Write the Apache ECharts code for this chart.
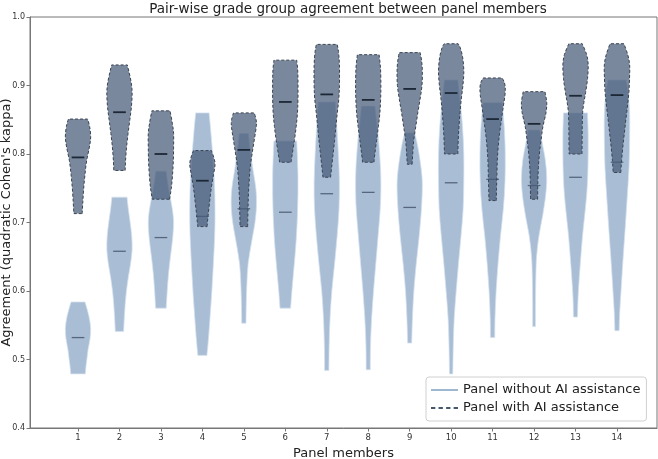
<!DOCTYPE html>
<html><head><meta charset="utf-8">
<script src="https://cdn.jsdelivr.net/npm/echarts@6/dist/echarts.min.js"></script>
<style>html,body{margin:0;padding:0;background:#fff}#c{width:658px;height:459px}</style>
</head><body><div id="c"></div>
<script>
const members = [1,2,3,4,5,6,7,8,9,10,11,12,13,14];
const tickLabels = ['1','2','3','4','5','6','7','8','9','10','11','12','13','14'];
const seriesNames = ['Panel without AI assistance', 'Panel with AI assistance'];

// Without AI: violin outline as [agreement, relative half-width], bottom to top
const noAiProfiles = [
  [[0.479,0.58],[0.49,0.63],[0.50,0.7],[0.515,0.8],[0.53,0.95],[0.545,1.0],[0.56,0.9],[0.575,0.7],[0.584,0.55]],
  [[0.541,0.33],[0.56,0.38],[0.58,0.45],[0.60,0.55],[0.62,0.7],[0.64,0.88],[0.66,1.0],[0.68,0.97],[0.70,0.85],[0.72,0.7],[0.737,0.6]],
  [[0.575,0.42],[0.60,0.5],[0.625,0.6],[0.65,0.75],[0.675,0.92],[0.70,1.0],[0.72,0.9],[0.74,0.7],[0.76,0.52],[0.775,0.41]],
  [[0.506,0.36],[0.53,0.48],[0.56,0.6],[0.60,0.75],[0.64,0.87],[0.68,0.97],[0.71,1.0],[0.75,0.97],[0.79,0.85],[0.83,0.68],[0.86,0.53]],
  [[0.553,0.17],[0.58,0.19],[0.61,0.24],[0.64,0.34],[0.67,0.6],[0.70,0.88],[0.725,1.0],[0.75,0.95],[0.78,0.7],[0.81,0.48],[0.83,0.37]],
  [[0.575,0.42],[0.60,0.52],[0.625,0.64],[0.65,0.76],[0.68,0.88],[0.71,0.96],[0.74,1.0],[0.77,1.0],[0.80,0.95],[0.819,0.9]],
  [[0.484,0.17],[0.52,0.19],[0.56,0.26],[0.60,0.4],[0.64,0.62],[0.68,0.82],[0.72,0.97],[0.76,1.0],[0.80,0.92],[0.84,0.8],[0.876,0.68]],
  [[0.485,0.16],[0.52,0.18],[0.56,0.27],[0.60,0.42],[0.64,0.6],[0.68,0.78],[0.72,0.95],[0.75,1.0],[0.78,0.97],[0.82,0.82],[0.85,0.65],[0.87,0.53]],
  [[0.524,0.16],[0.56,0.22],[0.60,0.33],[0.64,0.52],[0.68,0.75],[0.72,0.93],[0.755,1.0],[0.78,0.9],[0.81,0.65],[0.831,0.4]],
  [[0.479,0.13],[0.52,0.17],[0.56,0.24],[0.60,0.4],[0.64,0.58],[0.68,0.78],[0.72,0.95],[0.76,1.0],[0.80,1.0],[0.84,0.9],[0.88,0.7],[0.908,0.53]],
  [[0.532,0.17],[0.56,0.19],[0.60,0.28],[0.64,0.43],[0.68,0.62],[0.72,0.85],[0.76,0.98],[0.80,1.0],[0.84,0.92],[0.875,0.75]],
  [[0.548,0.11],[0.58,0.11],[0.62,0.14],[0.65,0.2],[0.68,0.38],[0.71,0.68],[0.74,0.92],[0.765,1.0],[0.79,0.9],[0.815,0.66],[0.835,0.46]],
  [[0.562,0.16],[0.59,0.2],[0.62,0.3],[0.65,0.42],[0.68,0.55],[0.71,0.72],[0.74,0.88],[0.77,0.97],[0.80,1.0],[0.83,1.0],[0.86,0.95]],
  [[0.542,0.17],[0.57,0.22],[0.60,0.32],[0.63,0.42],[0.66,0.53],[0.70,0.68],[0.74,0.82],[0.78,0.95],[0.82,1.0],[0.86,1.0],[0.89,0.88],[0.908,0.72]]
];
const noAiMedians = [0.532,0.658,0.678,0.709,0.720,0.715,0.742,0.744,0.722,0.758,0.763,0.754,0.766,0.788];

// With AI
const aiProfiles = [
  [[0.713,0.33],[0.73,0.38],[0.75,0.45],[0.77,0.55],[0.79,0.68],[0.81,0.9],[0.825,1.0],[0.84,0.92],[0.851,0.76]],
  [[0.776,0.45],[0.79,0.48],[0.81,0.56],[0.83,0.68],[0.85,0.82],[0.87,0.95],[0.89,1.0],[0.905,0.92],[0.92,0.75],[0.93,0.62]],
  [[0.734,0.68],[0.75,0.82],[0.77,0.92],[0.79,0.98],[0.81,1.0],[0.83,1.0],[0.845,0.9],[0.863,0.72]],
  [[0.694,0.37],[0.71,0.45],[0.73,0.57],[0.75,0.7],[0.77,0.88],[0.785,1.0],[0.795,0.9],[0.805,0.71]],
  [[0.694,0.3],[0.72,0.33],[0.74,0.36],[0.76,0.42],[0.78,0.5],[0.80,0.65],[0.82,0.82],[0.84,0.98],[0.85,0.97],[0.86,0.82]],
  [[0.788,0.45],[0.80,0.55],[0.82,0.72],[0.84,0.86],[0.86,0.96],[0.88,1.0],[0.91,1.0],[0.925,0.97],[0.937,0.9]],
  [[0.766,0.3],[0.78,0.38],[0.80,0.5],[0.82,0.62],[0.84,0.72],[0.86,0.83],[0.88,0.95],[0.90,1.0],[0.93,1.0],[0.95,0.92],[0.96,0.82]],
  [[0.788,0.45],[0.80,0.52],[0.82,0.66],[0.84,0.8],[0.86,0.92],[0.88,0.98],[0.90,1.0],[0.925,0.97],[0.945,0.86]],
  [[0.785,0.19],[0.80,0.24],[0.82,0.32],[0.84,0.48],[0.86,0.64],[0.88,0.82],[0.90,0.97],[0.92,1.0],[0.935,0.95],[0.948,0.83]],
  [[0.80,0.53],[0.82,0.56],[0.84,0.62],[0.86,0.7],[0.88,0.8],[0.90,0.93],[0.92,1.0],[0.94,0.92],[0.955,0.72],[0.961,0.55]],
  [[0.732,0.29],[0.75,0.31],[0.77,0.34],[0.79,0.37],[0.81,0.44],[0.83,0.55],[0.85,0.7],[0.87,0.85],[0.885,0.97],[0.897,1.0],[0.905,0.92],[0.911,0.75]],
  [[0.734,0.28],[0.76,0.3],[0.78,0.34],[0.80,0.42],[0.82,0.55],[0.84,0.7],[0.86,0.94],[0.875,1.0],[0.891,0.86]],
  [[0.80,0.51],[0.82,0.52],[0.84,0.53],[0.86,0.56],[0.875,0.66],[0.89,0.8],[0.91,0.95],[0.93,1.0],[0.945,0.88],[0.961,0.53]],
  [[0.773,0.3],[0.79,0.36],[0.81,0.46],[0.83,0.58],[0.85,0.7],[0.87,0.83],[0.89,0.94],[0.91,0.99],[0.93,1.0],[0.945,0.85],[0.961,0.55]]
];
const aiMedians = [0.795,0.861,0.800,0.761,0.806,0.876,0.887,0.879,0.895,0.889,0.851,0.844,0.885,0.886];

const HALF = 0.305;     // max half-width of a violin, x units
const MED_HALF = 0.153; // half-length of median marker

function fmt(p){ return p[0].toFixed(2) + ',' + p[1].toFixed(2); }
function curveThrough(pts){
  let d = '';
  for (let i = 0; i < pts.length - 1; i++) {
    const p0 = pts[i-1] || pts[i], p1 = pts[i], p2 = pts[i+1], p3 = pts[i+2] || pts[i+1];
    const c1 = [p1[0] + (p2[0]-p0[0])/6, p1[1] + (p2[1]-p0[1])/6];
    const c2 = [p2[0] - (p3[0]-p1[0])/6, p2[1] - (p3[1]-p1[1])/6];
    d += 'C' + fmt(c1) + ' ' + fmt(c2) + ' ' + fmt(p2);
  }
  return d;
}
function makeRender(profiles, medians, style, medStyle){
  return function(params, api){
    const i = params.dataIndex;
    const x = members[i];
    const prof = profiles[i];
    const right = prof.map(p => api.coord([x + p[1]*HALF, p[0]]));
    const left = prof.map(p => api.coord([x - p[1]*HALF, p[0]])).reverse();
    const d = 'M' + fmt(right[0]) + curveThrough(right) + 'L' + fmt(left[0]) + curveThrough(left) + 'Z';
    const m1 = api.coord([x - MED_HALF, medians[i]]);
    const m2 = api.coord([x + MED_HALF, medians[i]]);
    return {
      type: 'group',
      children: [
        { type: 'path', shape: { pathData: d }, style: style },
        { type: 'line', shape: { x1: m1[0], y1: m1[1], x2: m2[0], y2: m2[1] }, style: medStyle }
      ]
    };
  };
}

const chart = echarts.init(document.getElementById('c'));
const FONT = 'DejaVu Sans';
chart.setOption({
  animation: false,
  backgroundColor: '#fff',
  title: {
    text: 'Pair-wise grade group agreement between panel members',
    left: 343, top: -3, textAlign: 'center',
    textStyle: { fontFamily: FONT, fontSize: 13.5, fontWeight: 'normal', color: '#222' }
  },
  grid: { left: 30, right: 1, top: 17, bottom: 31, outerBoundsMode: 'none', containLabel: false, show: true, borderColor: '#777', borderWidth: 1, backgroundColor: 'transparent' },
  legend: {
    orient: 'vertical', left: 426, top: 377,
    itemWidth: 27, itemHeight: 2, itemGap: 4, itemTextGap: 9,
    symbolKeepAspect: false, selectedMode: false,
    padding: [6, 6, 6, 5],
    backgroundColor: '#fff', borderColor: '#d0d0d0', borderWidth: 1, borderRadius: 3,
    textStyle: { fontFamily: FONT, fontSize: 13, color: '#222', lineHeight: 14 },
    data: [
      { name: seriesNames[0], icon: 'rect', itemStyle: { color: '#9fb8d2', borderWidth: 0 } },
      { name: seriesNames[1], icon: 'path://M0,0h4v1h-4zM7,0h4v1h-4zM14,0h4v1h-4zM21,0h4v1h-4z', itemStyle: { color: '#46566c', borderWidth: 0 } }
    ]
  },
  xAxis: {
    type: 'value', min: -0.158, max: 14.965,
    name: 'Panel members', nameLocation: 'middle', nameGap: 18,
    nameTextStyle: { fontFamily: FONT, fontSize: 13, color: '#222' },
    axisLine: { show: true, onZero: false, lineStyle: { color: '#777' } },
    axisTick: { show: true, customValues: members, length: 3.5, lineStyle: { color: '#777' } },
    axisLabel: { customValues: members, formatter: v => tickLabels[members.indexOf(v)], fontFamily: FONT, fontSize: 8.5, color: '#333', margin: 5 },
    splitLine: { show: false }
  },
  yAxis: {
    type: 'value', min: 0.4, max: 1.0, interval: 0.1,
    name: "Agreement (quadratic Cohen's kappa)", nameLocation: 'middle', nameGap: 17, nameRotate: 90,
    nameMoveOverlap: false,
    nameTextStyle: { fontFamily: FONT, fontSize: 13, color: '#222' },
    axisLine: { show: true, onZero: false, lineStyle: { color: '#777' } },
    axisTick: { show: true, length: 3.5, lineStyle: { color: '#777' } },
    axisLabel: { formatter: v => v.toFixed(1), fontFamily: FONT, fontSize: 8, color: '#333', margin: 5 },
    splitLine: { show: false }
  },
  series: [
    {
      name: seriesNames[0], type: 'custom', z: 2,
      itemStyle: { color: '#9fb8d2' },
      data: members.map(m => [m]),
      renderItem: makeRender(noAiProfiles, noAiMedians,
        { fill: '#a9bed5', stroke: 'rgba(215,226,238,0.9)', lineWidth: 0.8 },
        { stroke: '#56677d', lineWidth: 1.3 })
    },
    {
      name: seriesNames[1], type: 'custom', z: 3,
      itemStyle: { color: '#46566c' },
      data: members.map(m => [m]),
      renderItem: makeRender(aiProfiles, aiMedians,
        { fill: 'rgba(70,90,120,0.72)', stroke: '#3a4350', lineWidth: 1, lineDash: [3, 2] },
        { stroke: '#1d2836', lineWidth: 1.8 })
    }
  ]
});
</script></body></html>
